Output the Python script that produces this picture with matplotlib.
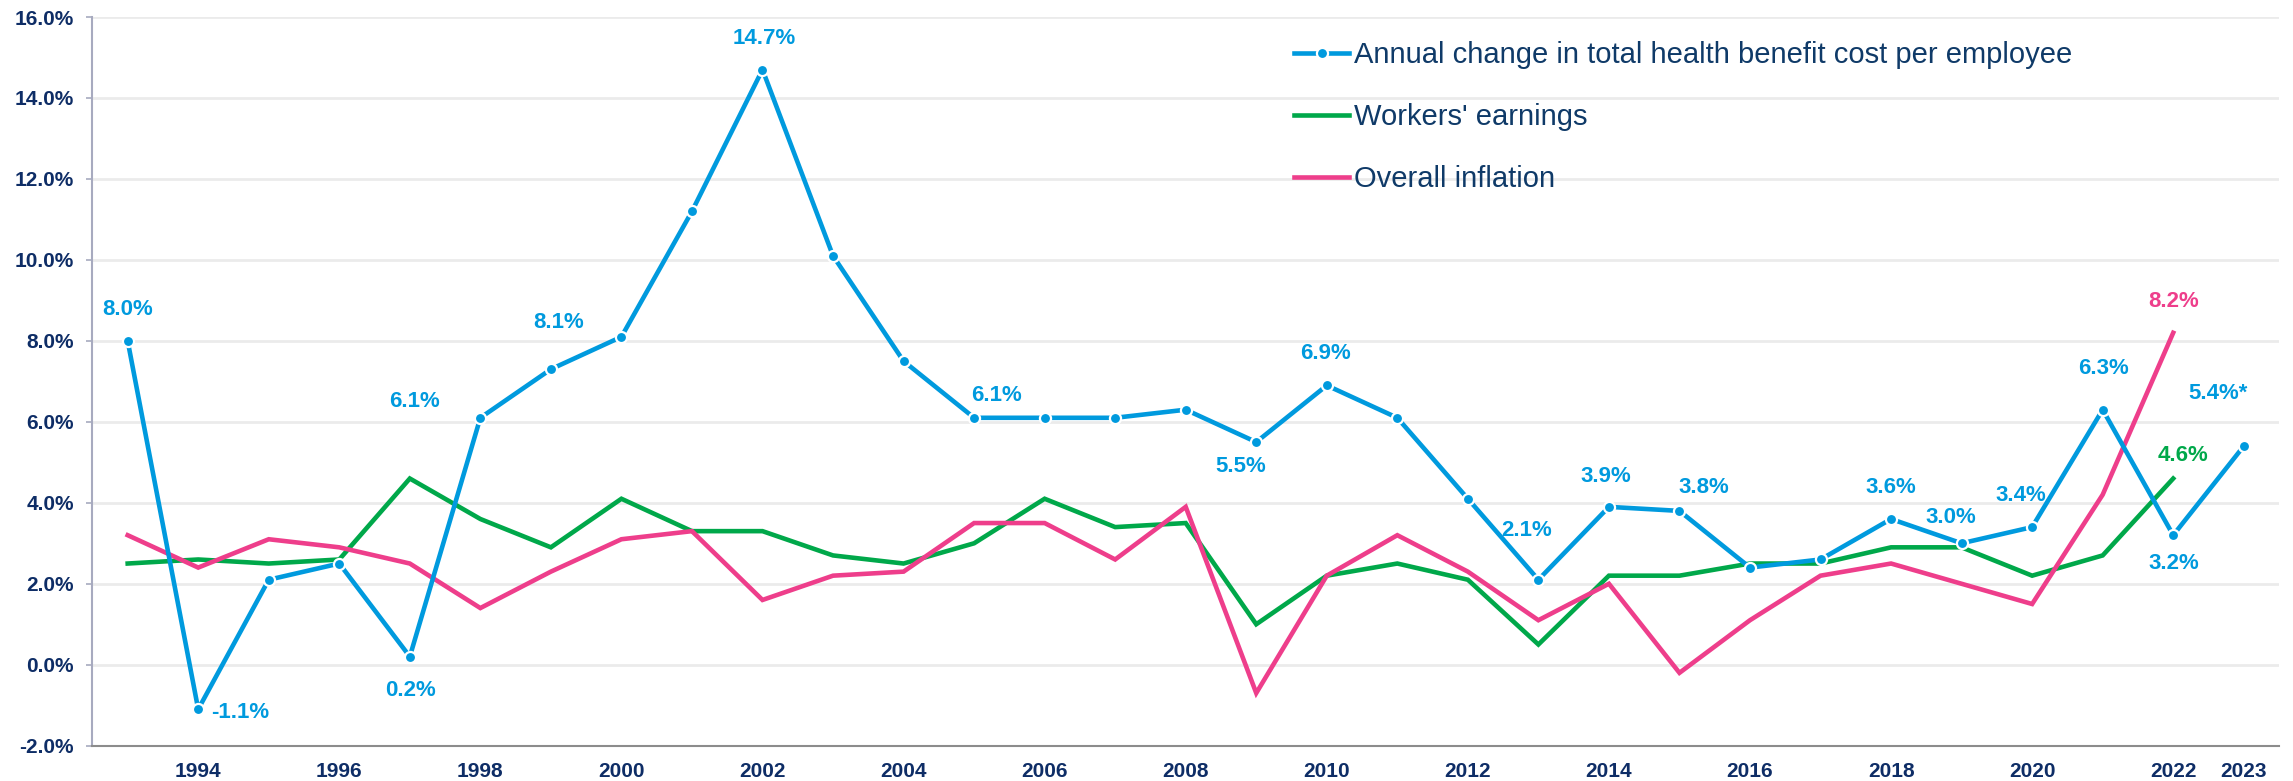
import matplotlib
matplotlib.use("Agg")
import matplotlib.pyplot as plt
from matplotlib.ticker import FuncFormatter, FixedLocator

plt.rcParams['font.family'] = ['Liberation Sans', 'DejaVu Sans']

years = list(range(1993, 2024))
health = [8.0, -1.1, 2.1, 2.5, 0.2, 6.1, 7.3, 8.1, 11.2, 14.7, 10.1, 7.5, 6.1, 6.1, 6.1,
          6.3, 5.5, 6.9, 6.1, 4.1, 2.1, 3.9, 3.8, 2.4, 2.6, 3.6, 3.0, 3.4, 6.3, 3.2, 5.4]
earnings = [2.5, 2.6, 2.5, 2.6, 4.6, 3.6, 2.9, 4.1, 3.3, 3.3, 2.7, 2.5, 3.0, 4.1, 3.4,
            3.5, 1.0, 2.2, 2.5, 2.1, 0.5, 2.2, 2.2, 2.5, 2.5, 2.9, 2.9, 2.2, 2.7, 4.6]
inflation = [3.2, 2.4, 3.1, 2.9, 2.5, 1.4, 2.3, 3.1, 3.3, 1.6, 2.2, 2.3, 3.5, 3.5, 2.6,
             3.9, -0.7, 2.2, 3.2, 2.3, 1.1, 2.0, -0.2, 1.1, 2.2, 2.5, 2.0, 1.5, 4.2, 8.2]
tick_years = [1994, 1996, 1998, 2000, 2002, 2004, 2006, 2008, 2010, 2012, 2014,
              2016, 2018, 2020, 2022, 2023]
series_names = ["Annual change in total health benefit cost per employee",
                "Workers' earnings", "Overall inflation"]

# labels: (year, text, dx px, dy px)
health_labels = [(1993, "8.0%", 0, 31), (1994, "-1.1%", 42, -3), (1997, "0.2%", 1, -34),
                 (1998, "6.1%", -66, 16), (2000, "8.1%", -63, 14), (2002, "14.7%", 2, 31),
                 (2005, "6.1%", 22, 22), (2009, "5.5%", -16, -24), (2010, "6.9%", -1, 32),
                 (2013, "2.1%", -12, 49), (2014, "3.9%", -3, 30), (2015, "3.8%", 24, 23),
                 (2018, "3.6%", 0, 32), (2019, "3.0%", -11, 26), (2020, "3.4%", -11, 32),
                 (2021, "6.3%", 1, 41), (2022, "3.2%", 1, -28), (2023, "5.4%*", -26, 53)]
infl_labels = [(2022, "8.2%", 0, 31)]
earn_labels = [(2022, "4.6%", 10, 23)]

BLUE = "#009ADE"
GREEN = "#00A84A"
PINK = "#EE3E8B"
NAVY = "#0E2D66"
LEGNAVY = "#0F3A68"

fig = plt.figure(figsize=(22.93, 7.81), dpi=100)
ax = fig.add_axes([0.0403, 0.0452, 0.9536, 0.9330])

x_idx = {y: i for i, y in enumerate(years)}
xs_h = list(range(len(health)))
xs_e = list(range(len(earnings)))
xs_i = list(range(len(inflation)))

ax.plot(xs_e, earnings, color=GREEN, lw=3.3, solid_joinstyle='miter', zorder=3, label=series_names[1])
ax.plot(xs_i, inflation, color=PINK, lw=3.3, solid_joinstyle='miter', zorder=3, label=series_names[2])
ax.plot(xs_h, health, color=BLUE, lw=3.3, marker='o', ms=8, mfc=BLUE, mec='white', mew=1.6,
        zorder=4, label=series_names[0])

def put(labels, vals, color):
    for yr, txt, dx, dy in labels:
        i = x_idx[yr]
        ax.annotate(txt, (i, vals[i]), xytext=(dx, dy), textcoords='offset pixels',
                    ha='center', va='center', color=color, fontsize=16,
                    fontweight='bold', zorder=5)

put(health_labels, health, BLUE)
put(infl_labels, inflation, PINK)
put(earn_labels, earnings, GREEN)

ax.set_xlim(-0.5, len(years) - 0.5)
ax.set_ylim(-2, 16)
ax.set_yticks([-2, 0, 2, 4, 6, 8, 10, 12, 14, 16])
ax.yaxis.set_major_formatter(FuncFormatter(lambda v, p: f"{v:.1f}%"))
ax.xaxis.set_major_locator(FixedLocator([x_idx[y] for y in tick_years]))
ax.set_xticklabels([str(y) for y in tick_years])

ax.grid(axis='y', color='#EBEBEB', lw=2, zorder=0)
ax.set_axisbelow(True)
for s in ['top', 'right']:
    ax.spines[s].set_visible(False)
ax.spines['left'].set_color('#A7AABF')
ax.spines['left'].set_linewidth(1.5)
ax.spines['bottom'].set_color('#8C8C8C')
ax.spines['bottom'].set_linewidth(1.5)

ax.tick_params(axis='y', length=4.3, width=1.2, color='#A7AABF', pad=9, labelsize=15, labelcolor=NAVY)
ax.tick_params(axis='x', length=0, pad=12, labelsize=15, labelcolor=NAVY)
for lab in ax.get_yticklabels() + ax.get_xticklabels():
    lab.set_fontweight('bold')

h, l = ax.get_legend_handles_labels()
order = [2, 0, 1]
leg = ax.legend([h[k] for k in order], [l[k] for k in order], loc='upper left',
                bbox_to_anchor=(1294 / 2293, 1 - 41 / 781), bbox_transform=fig.transFigure,
                frameon=False, fontsize=21, handlelength=1.9, handletextpad=0.15,
                labelspacing=1.17, borderpad=0, borderaxespad=0)
for t in leg.get_texts():
    t.set_color(LEGNAVY)

fig.savefig("out.png", dpi=100)
